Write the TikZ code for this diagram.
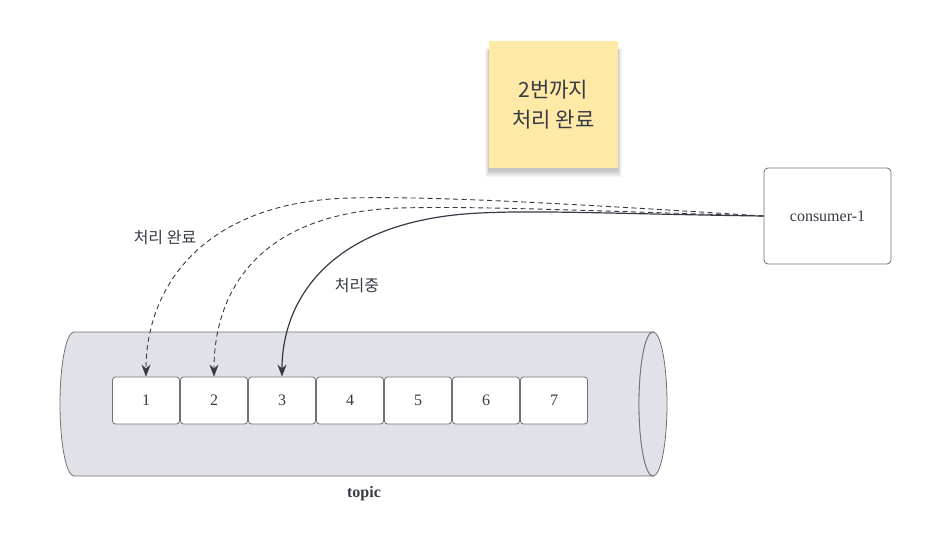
\documentclass[tikz,border=0pt]{standalone}
\usepackage{fontspec}
\setmainfont{Liberation Serif}
\newfontfamily\kr{Noto Sans CJK KR}
\usetikzlibrary{arrows.meta}
\definecolor{ink}{HTML}{353A45}
\definecolor{edge}{HTML}{6E7278}
\definecolor{tube}{HTML}{E0E2E7}
\definecolor{sticky}{HTML}{FFE9A6}
\tikzset{
  cell/.style={draw=edge, fill=white, rounded corners=3pt, minimum width=67pt, minimum height=47pt, inner sep=0pt, line width=0.8pt, font=\fontsize{16}{19}\selectfont, text=ink},
  link/.style={draw=ink, line width=1.2pt, -{Stealth[length=12pt,width=9pt]}},
  dlink/.style={link, line width=0.9pt, dash pattern=on 5pt off 3.5pt},
  lbl/.style={font=\kr\fontsize{16}{19}\selectfont, text=ink},
}
\begin{document}
\begin{tikzpicture}[x=1pt,y=-1pt]
\useasboundingbox (0,0) rectangle (951,546);
% soft shadow of the sticky note
\foreach \d in {0,1,2,3,4,5,6} {
  \fill[black, opacity=0.035] (489-\d*0.6,50-\d*0.3) rectangle (618+\d*0.6,171+\d);
}
% sticky note
\node[draw=none, fill=sticky, minimum width=129pt, minimum height=127pt, inner sep=0pt,
  align=center, font=\kr\fontsize{21}{30}\selectfont, text=ink] (note) at (553.5,104.5) {2번까지\\처리 완료};
% consumer
\node[draw=edge, fill=white, rounded corners=4pt, minimum width=127pt, minimum height=96pt, inner sep=0pt, line width=0.8pt,
  font=\fontsize{16}{19}\selectfont, text=ink] (cons) at (827.5,216) {consumer-1};
% cylinder
\draw[edge, fill=tube, line width=0.8pt] (74,332) -- (653,332) arc[start angle=90, end angle=270, x radius=14pt, y radius=72pt] -- (74,476) arc[start angle=270, end angle=90, x radius=14pt, y radius=72pt] -- cycle;
\draw[edge, fill=tube, line width=0.8pt] (653,404) ellipse[x radius=14pt, y radius=72pt];
\node[font=\bfseries\fontsize{16}{19}\selectfont, text=ink] (topic) at (364,494) {topic};
% cells
\foreach \i/\x in {1/146,2/214,3/282,4/350,5/418,6/486,7/554} {
  \node[cell] (c\i) at (\x,400.5) {\i};
}
% arrows
\draw[dlink] (cons.west) .. controls (560,203) and (430,196) .. (350,198) .. controls (200,202) and (146,290) .. (c1.north);
\draw[dlink] (cons.west) .. controls (570,210) and (470,206) .. (400,208) .. controls (250,213) and (214,300) .. (c2.north);
\draw[link] (cons.west) .. controls (620,214) and (540,210) .. (480,213) .. controls (330,220) and (282,300) .. (c3.north);
\node[lbl] (l1) at (165,238) {처리 완료};
\node[lbl] (l2) at (357,286) {처리중};
\end{tikzpicture}
\end{document}
